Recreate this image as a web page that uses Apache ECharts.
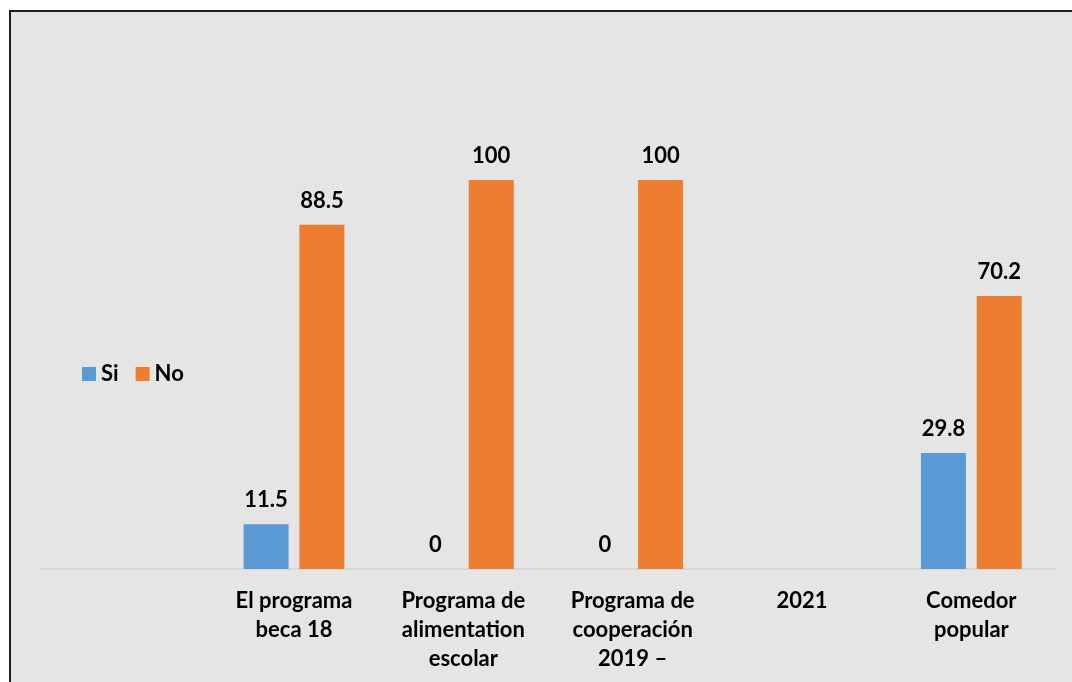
<!DOCTYPE html>
<html>
<head>
<meta charset="utf-8">
<script src="https://cdn.jsdelivr.net/npm/echarts@6/dist/echarts.min.js"></script>
<style>
  html, body { margin: 0; padding: 0; background: #ffffff; overflow: hidden; }
  #frame {
    position: absolute; left: 9px; top: 10px; width: 1100px; height: 700px;
    background: #e5e5e5; border: 2px solid #1f1f1f; box-sizing: border-box;
  }
  #chart { position: absolute; left: 0; top: 0; width: 1072px; height: 682px; }
</style>
</head>
<body>
<div id="frame"></div>
<div id="chart"></div>
<script>
// Program categories (the long label is split into "2019 –" and "2021")
const categories = [
  '',
  'El programa\nbeca 18',
  'Programa de\nalimentation\nescolar',
  'Programa de\ncooperación\n2019 –',
  '2021',
  'Comedor\npopular'
];
// Percentages per answer
const siValues = [null, 11.5, 0, 0, null, 29.8];
const noValues = [null, 88.5, 100, 100, null, 70.2];
const seriesNames = ['Si', 'No'];

const FONT = 'Lato, "Open Sans", sans-serif';
const FONT_SIZE = 22;

const chart = echarts.init(document.getElementById('chart'), null, { renderer: 'canvas' });

const labelStyle = {
  show: true,
  position: 'top',
  distance: 13,
  color: '#000000',
  fontFamily: FONT,
  fontWeight: 'bold',
  fontSize: FONT_SIZE
};

chart.setOption({
  animation: false,
  backgroundColor: 'transparent',
  grid: { left: 40, right: 16, top: 180, bottom: 113, containLabel: false },
  legend: {
    data: seriesNames,
    left: 77,
    top: 358,
    orient: 'horizontal',
    itemWidth: 14,
    itemHeight: 14,
    itemGap: 17,
    icon: 'rect',
    textStyle: { color: '#000000', fontFamily: FONT, fontWeight: 'bold', fontSize: FONT_SIZE }
  },
  xAxis: {
    type: 'category',
    data: categories,
    axisLine: { show: true, lineStyle: { color: '#d4d4d4', width: 1.5 } },
    axisTick: { show: false },
    axisLabel: {
      interval: 0,
      margin: 17,
      color: '#000000',
      fontFamily: FONT,
      fontWeight: 'bold',
      fontSize: FONT_SIZE,
      lineHeight: 29
    }
  },
  yAxis: {
    type: 'value',
    min: 0,
    max: 100,
    show: false,
    splitLine: { show: false }
  },
  series: [
    {
      name: seriesNames[0],
      type: 'bar',
      data: siValues,
      barWidth: 45,
      barGap: '24%',
      itemStyle: { color: '#5b9bd5' },
      label: labelStyle
    },
    {
      name: seriesNames[1],
      type: 'bar',
      data: noValues,
      barWidth: 45,
      itemStyle: { color: '#ed7d31' },
      label: labelStyle
    }
  ]
});
</script>
</body>
</html>
